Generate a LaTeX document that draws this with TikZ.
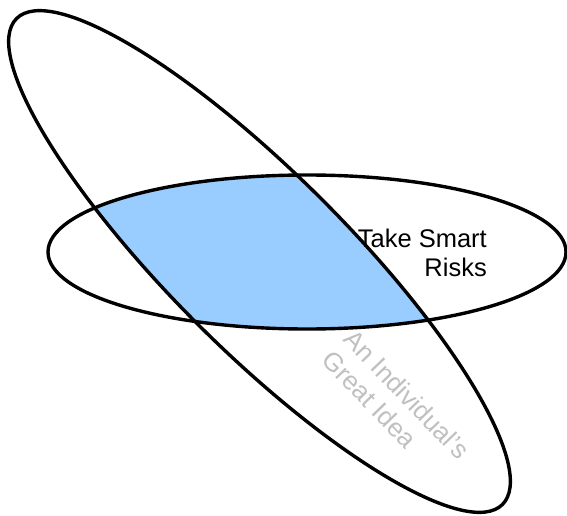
\documentclass[tikz,border=0pt]{standalone}
\usepackage{fontspec}
\setmainfont{Liberation Sans}
\definecolor{overlapblue}{RGB}{153,204,255}
\definecolor{softgray}{RGB}{192,192,192}
\tikzset{
  outline/.style={draw=black, line width=3.4pt},
  bigtext/.style={font=\fontsize{25.5}{29}\selectfont, inner sep=0pt},
  ideatext/.style={font=\fontsize{26}{30}\selectfont, inner sep=0pt}
}
\begin{document}
\begin{tikzpicture}[x=1pt,y=1pt]
\useasboundingbox[fill=white] (0,0) rectangle (567,515);
\coordinate (tc) at (259.5,253.5);
\coordinate (hc) at (307,263);
% overlap fill
\begin{scope}
  \clip (hc) ellipse [x radius=259pt, y radius=77pt];
  \fill[overlapblue, rotate around={-45:(tc)}] (tc) ellipse [x radius=343.6pt, y radius=88pt];
\end{scope}
\draw[outline, rotate around={-45:(tc)}] (tc) ellipse [x radius=343.6pt, y radius=88pt];
\draw[outline] (hc) ellipse [x radius=259pt, y radius=77pt];
\node[bigtext, align=right, anchor=east] (risk) at (487,262) {Take Smart\\Risks};
\node[ideatext, align=left, text=softgray, rotate=-46] (idea) at (396,110) {An Individual’s\\Great Idea};
\end{tikzpicture}
\end{document}
